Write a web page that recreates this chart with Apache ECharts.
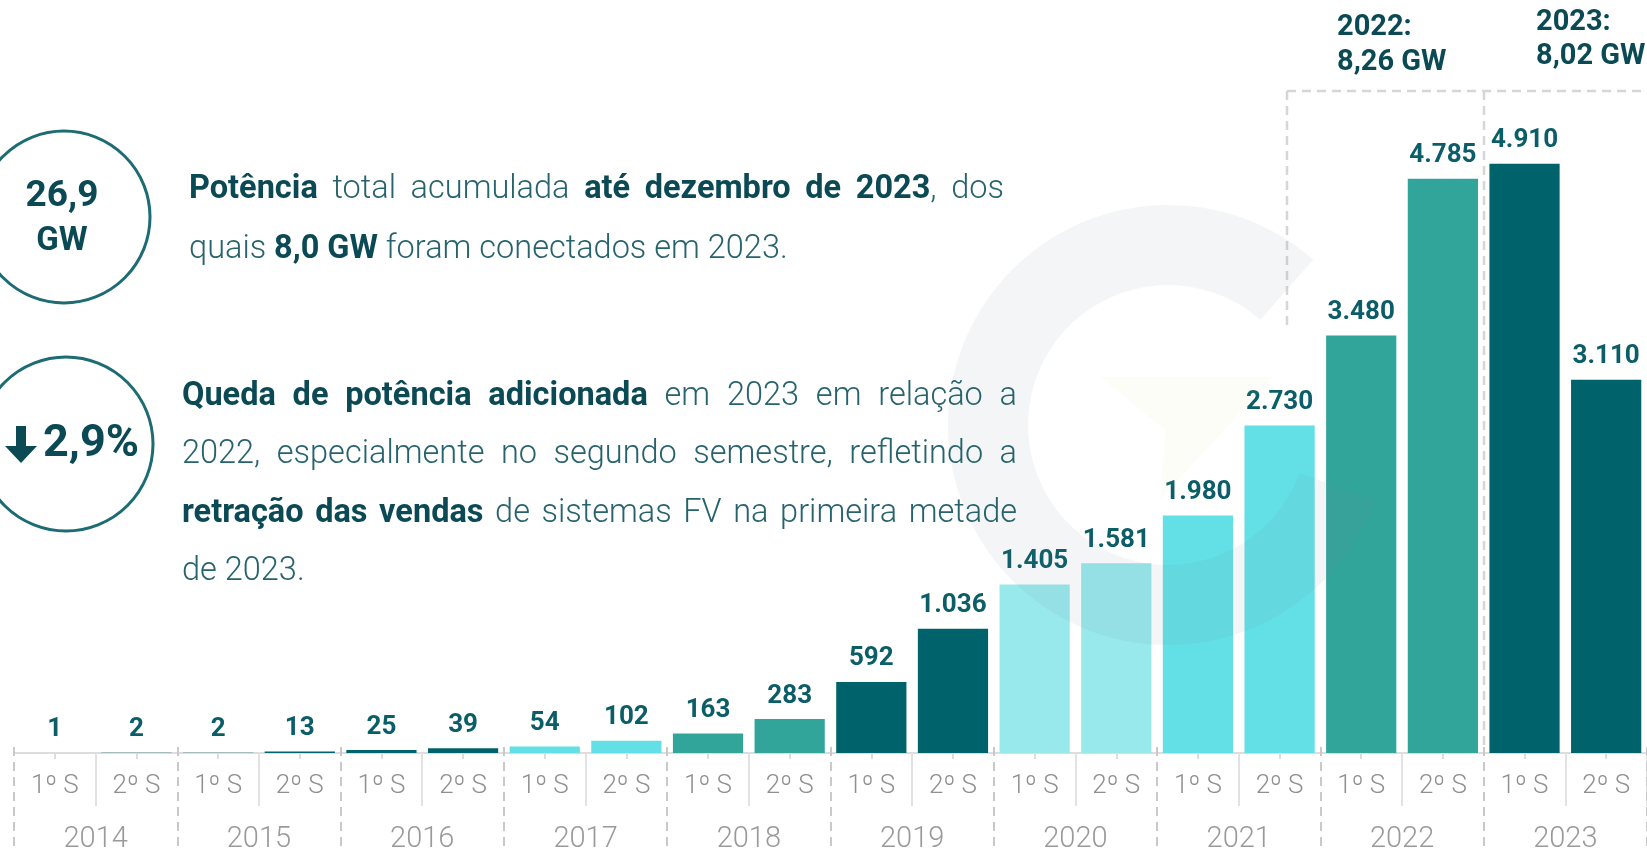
<!DOCTYPE html>
<html>
<head>
<meta charset="utf-8">
<script src="https://cdn.jsdelivr.net/npm/echarts@6/dist/echarts.min.js"></script>
<style>
  html, body { margin: 0; padding: 0; background: #fff; }
  #chart { width: 1647px; height: 852px; }
</style>
</head>
<body>
<div id="chart"></div>
<script>
// dados: potência adicionada por semestre (MW)
var years = ['2014', '2015', '2016', '2017', '2018', '2019', '2020', '2021', '2022', '2023'];
var semesters = ['1º S', '2º S', '1º S', '2º S', '1º S', '2º S', '1º S', '2º S', '1º S', '2º S',
                 '1º S', '2º S', '1º S', '2º S', '1º S', '2º S', '1º S', '2º S', '1º S', '2º S'];
var values = [1, 2, 2, 13, 25, 39, 54, 102, 163, 283, 592, 1036, 1405, 1581, 1980, 2730, 3480, 4785, 4910, 3110];
var yearColors = ['#00626a', '#00626a', '#00626a', '#62e0e6', '#32a59b', '#00626a', '#97e9ec', '#62e0e6', '#32a59b', '#00626a'];
var yearTotals = ['2022:', '8,26 GW', '2023:', '8,02 GW'];

var DARK = '#0b4a54';
var REG = '#27636c';

var chart = echarts.init(document.getElementById('chart'));

// mede texto para justificar as linhas
var ctx = document.createElement('canvas').getContext('2d');
function fontOf(bold, fs) { return (bold ? '700 ' : '300 ') + fs + 'px Roboto'; }
function measure(t, f) { ctx.font = f; return ctx.measureText(t).width; }

function parseLine(s) {
    var words = [[]];
    s.split('**').forEach(function (p, i) {
        var bold = i % 2 === 1;
        p.split(' ').forEach(function (w, j) {
            if (j > 0 && words[words.length - 1].length) words.push([]);
            if (w) words[words.length - 1].push([w, bold]);
        });
    });
    return words.filter(function (w) { return w.length; });
}

function lineEls(s, x0, x1, y, fs, justify) {
    var words = parseLine(s);
    var widths = words.map(function (w) {
        return w.reduce(function (a, p) { return a + measure(p[0], fontOf(p[1], fs)); }, 0);
    });
    var total = widths.reduce(function (a, b) { return a + b; }, 0);
    var gap = justify ? (x1 - x0 - total) / (words.length - 1) : measure(' ', fontOf(false, fs));
    var els = [];
    var x = x0;
    words.forEach(function (w, i) {
        var px = x;
        w.forEach(function (p) {
            var f = fontOf(p[1], fs);
            els.push({
                type: 'text', x: px, y: y, z: 10,
                style: { text: p[0], font: f, fill: p[1] ? DARK : REG, textVerticalAlign: 'middle' }
            });
            px += measure(p[0], f);
        });
        x += widths[i] + gap;
    });
    return els;
}

var FS = 32.5;
var graphics = [];
graphics = graphics.concat(
    lineEls('**Potência** total acumulada **até dezembro de 2023**, dos', 189, 1004, 190, FS, true),
    lineEls('quais **8,0 GW** foram conectados em 2023.', 189, 1004, 250, FS, false),
    lineEls('**Queda de potência adicionada** em 2023 em relação a', 182, 1017, 397, FS, true),
    lineEls('2022, especialmente no segundo semestre, refletindo a', 182, 1017, 455, FS, true),
    lineEls('**retração das vendas** de sistemas FV  na primeira metade', 182, 1017, 514, FS, true),
    lineEls('de 2023.', 182, 1017, 572, FS, false)
);

// marca d'água (G)
graphics.push({
    type: 'sector', z: 5, silent: true,
    shape: { cx: 1168, cy: 425, r0: 140, r: 220, startAngle: 0.35, endAngle: Math.PI * 2 - 0.85, clockwise: true },
    style: { fill: 'rgba(120,130,135,0.08)' }
});
graphics.push({
    type: 'polygon', z: 5, silent: true,
    shape: { points: [[1100, 377], [1273, 377], [1160, 500], [1165, 430]] },
    style: { fill: 'rgba(220,220,140,0.06)' }
});

// círculos
graphics.push({ type: 'circle', shape: { cx: 64, cy: 217, r: 86 }, style: { fill: 'none', stroke: '#1d6b73', lineWidth: 3 } });
graphics.push({ type: 'circle', shape: { cx: 66, cy: 444, r: 87 }, style: { fill: 'none', stroke: '#1d6b73', lineWidth: 3 } });
graphics.push({ type: 'text', x: 62, y: 197, style: { text: '26,9', font: '700 37px Roboto', fill: DARK, textAlign: 'center', textVerticalAlign: 'middle' } });
graphics.push({ type: 'text', x: 62, y: 242, style: { text: 'GW', font: '700 33px Roboto', fill: DARK, textAlign: 'center', textVerticalAlign: 'middle' } });
graphics.push({
    type: 'polygon',
    shape: { points: [[16, 426], [26, 426], [26, 446], [37, 446], [21, 463], [5, 446], [16, 446]] },
    style: { fill: DARK }
});
graphics.push({ type: 'text', x: 43, y: 445, style: { text: '2,9%', font: '700 45px Roboto', fill: DARK, textVerticalAlign: 'middle' } });

// totais anuais e moldura tracejada
var totFont = '700 29px Roboto';
graphics.push({ type: 'text', x: 1337, y: 28, style: { text: yearTotals[0], font: totFont, fill: DARK, textVerticalAlign: 'middle' } });
graphics.push({ type: 'text', x: 1337, y: 63, style: { text: yearTotals[1], font: totFont, fill: DARK, textVerticalAlign: 'middle' } });
graphics.push({ type: 'text', x: 1536, y: 23, style: { text: yearTotals[2], font: totFont, fill: DARK, textVerticalAlign: 'middle' } });
graphics.push({ type: 'text', x: 1536, y: 57, style: { text: yearTotals[3], font: totFont, fill: DARK, textVerticalAlign: 'middle' } });
var dash = { stroke: '#d6d6d6', lineWidth: 2.5, lineDash: [9, 6] };
graphics.push({ type: 'line', shape: { x1: 1287, y1: 91, x2: 1647, y2: 91 }, style: dash });
graphics.push({ type: 'line', shape: { x1: 1287, y1: 91, x2: 1287, y2: 330 }, style: dash });
graphics.push({ type: 'line', shape: { x1: 1484, y1: 91, x2: 1484, y2: 748 }, style: dash });

var hiddenLine = { show: true, lineStyle: { color: 'rgba(0,0,0,0)', width: 0 } };

var option = {
    animation: false,
    grid: { left: 14, right: 0, top: 153, bottom: 99, containLabel: false, outerBoundsMode: 'none' },
    xAxis: [
        {
            type: 'category', data: semesters,
            axisLine: { lineStyle: { color: '#dddddd', width: 2 } },
            axisTick: { show: true, alignWithLabel: true, length: 6, lineStyle: { color: '#dddddd', width: 2 } },
            axisLabel: { color: '#909090', fontFamily: 'Roboto', fontWeight: 300, fontSize: 26, margin: 20, interval: 0 }
        },
        {
            // separadores entre semestres
            type: 'category', data: semesters, position: 'bottom',
            axisLine: hiddenLine,
            axisTick: { show: true, length: 53, interval: function (i) { return i % 2 === 1; }, lineStyle: { color: '#e2e2e2', width: 2 } },
            axisLabel: { show: false }
        },
        {
            // anos
            type: 'category', data: years, position: 'bottom', offset: -6,
            axisLine: hiddenLine,
            axisTick: { show: true, length: 110, lineStyle: { color: '#c9c9c9', width: 2, type: [9, 6] } },
            axisLabel: { color: '#9a9a9a', fontFamily: 'Roboto', fontWeight: 300, fontSize: 29, margin: 78, interval: 0 }
        }
    ],
    yAxis: { type: 'value', min: 0, max: 5000, show: false },
    series: [{
        type: 'bar',
        xAxisIndex: 0,
        barCategoryGap: '14%',
        data: values.map(function (v, i) {
            return { value: v, itemStyle: { color: yearColors[Math.floor(i / 2)] } };
        }),
        label: {
            show: true, position: 'top', distance: 10,
            color: '#0b5d67', fontFamily: 'Roboto', fontWeight: 'bold', fontSize: 26,
            formatter: function (p) { return p.value.toLocaleString('de-DE'); }
        }
    }],
    graphic: graphics
};

chart.setOption(option);
</script>
</body>
</html>
